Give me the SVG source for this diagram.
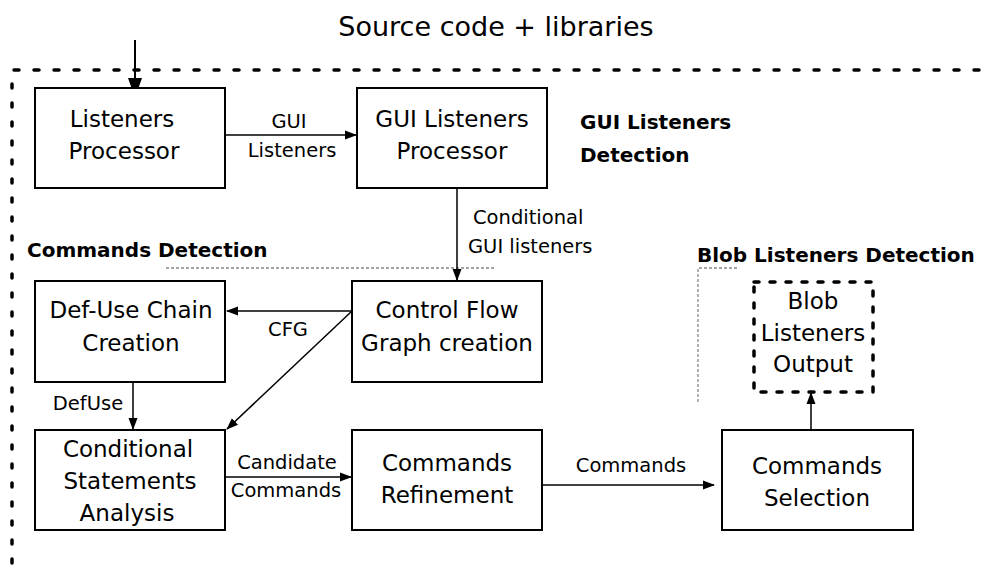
<svg xmlns="http://www.w3.org/2000/svg" width="984" height="571" viewBox="0 0 984 571">
<style>
.box{fill:#fff;stroke:#000;stroke-width:2}
.t{font-family:"DejaVu Sans","Liberation Sans",sans-serif;font-size:23px;fill:#000;text-anchor:middle}
.lb{font-family:"DejaVu Sans","Liberation Sans",sans-serif;font-size:19.5px;fill:#000}
.hd{font-family:"DejaVu Sans","Liberation Sans",sans-serif;font-size:20px;font-weight:bold;fill:#000}
.ln{stroke:#000;stroke-width:1.5;fill:none}
.gray{stroke:#888;stroke-width:1.3;stroke-dasharray:3 2;fill:none}
</style>
<defs>
<marker id="ah" markerWidth="12" markerHeight="10" refX="11" refY="5" orient="auto" markerUnits="userSpaceOnUse">
<path d="M0,0.5 L12,5 L0,9.5 Z" fill="#000"/>
</marker>
<marker id="big" markerWidth="20" markerHeight="16" refX="20" refY="8" orient="auto" markerUnits="userSpaceOnUse">
<path d="M0,1 L20,8 L0,15 Z" fill="#000"/>
</marker>
</defs>
<rect width="984" height="571" fill="#fff"/>
<text x="496" y="36" font-family="DejaVu Sans,Liberation Sans,sans-serif" font-size="27" text-anchor="middle">Source code + libraries</text>
<g id="frame">
<line x1="14" y1="70" x2="984" y2="70" stroke="#000" stroke-width="3.5" stroke-linecap="round" stroke-dasharray="5 15"/>
<line x1="12" y1="84" x2="12" y2="571" stroke="#000" stroke-width="3.5" stroke-linecap="round" stroke-dasharray="4 15"/>
</g>
<g id="headers">
<text class="hd" x="580" y="129">GUI Listeners</text>
<text class="hd" x="580" y="162">Detection</text>
<text class="hd" x="27" y="257">Commands Detection</text>
<text class="hd" x="697" y="262">Blob Listeners Detection</text>
<path class="gray" d="M166,268 H495"/>
<path class="gray" d="M737,268 H698 V404"/>
</g>
<g id="connectors">
<line x1="135" y1="40" x2="135" y2="98" stroke="#000" stroke-width="2" marker-end="url(#big)"/>
<line class="ln" x1="226" y1="135" x2="356" y2="135" marker-end="url(#ah)"/>
<text class="lb" x="289" y="128" text-anchor="middle">GUI</text>
<text class="lb" x="292" y="157" text-anchor="middle">Listeners</text>
<line class="ln" x1="457" y1="189" x2="457" y2="280" marker-end="url(#ah)"/>
<text class="lb" x="473" y="224">Conditional</text>
<text class="lb" x="468" y="253">GUI listeners</text>
<line class="ln" x1="352" y1="311" x2="227" y2="311" marker-end="url(#ah)"/>
<text class="lb" x="288" y="336" text-anchor="middle">CFG</text>
<line class="ln" x1="352" y1="311" x2="227" y2="429" marker-end="url(#ah)"/>
<line class="ln" x1="133" y1="383" x2="133" y2="429" marker-end="url(#ah)"/>
<text class="lb" x="88" y="410" text-anchor="middle">DefUse</text>
<line class="ln" x1="226" y1="477" x2="351" y2="477" marker-end="url(#ah)"/>
<text class="lb" x="287" y="469" text-anchor="middle">Candidate</text>
<text class="lb" x="286" y="497" text-anchor="middle">Commands</text>
<line class="ln" x1="543" y1="485" x2="714" y2="485" marker-end="url(#ah)"/>
<text class="lb" x="631" y="472" text-anchor="middle">Commands</text>
<line class="ln" x1="811" y1="429" x2="811" y2="393" marker-end="url(#ah)"/>
</g>
<g id="listeners-processor">
<rect class="box" x="35" y="88" width="190" height="100"/>
<text class="t" x="122" y="127">Listeners</text>
<text class="t" x="124" y="159">Processor</text>
</g>
<g id="gui-listeners-processor">
<rect class="box" x="357" y="88" width="190" height="100"/>
<text class="t" x="452" y="127">GUI Listeners</text>
<text class="t" x="452" y="159">Processor</text>
</g>
<g id="def-use">
<rect class="box" x="35" y="281" width="190" height="101"/>
<text class="t" x="131" y="318">Def-Use Chain</text>
<text class="t" x="131" y="351">Creation</text>
</g>
<g id="control-flow">
<rect class="box" x="352" y="281" width="190" height="101"/>
<text class="t" x="447" y="318">Control Flow</text>
<text class="t" x="447" y="351">Graph creation</text>
</g>
<g id="blob-output">
<rect x="754" y="282" width="119" height="110" fill="#fff" stroke="#000" stroke-width="3.5" stroke-linecap="round" stroke-dasharray="5 11"/>
<text class="t" x="813" y="309">Blob</text>
<text class="t" x="813" y="341">Listeners</text>
<text class="t" x="813" y="372">Output</text>
</g>
<g id="conditional">
<rect class="box" x="35" y="430" width="190" height="100"/>
<text class="t" x="128" y="457">Conditional</text>
<text class="t" x="130" y="489">Statements</text>
<text class="t" x="127" y="521">Analysis</text>
</g>
<g id="refinement">
<rect class="box" x="352" y="430" width="190" height="100"/>
<text class="t" x="447" y="471">Commands</text>
<text class="t" x="447" y="503">Refinement</text>
</g>
<g id="selection">
<rect class="box" x="722" y="430" width="191" height="100"/>
<text class="t" x="817" y="474">Commands</text>
<text class="t" x="817" y="506">Selection</text>
</g>
</svg>
